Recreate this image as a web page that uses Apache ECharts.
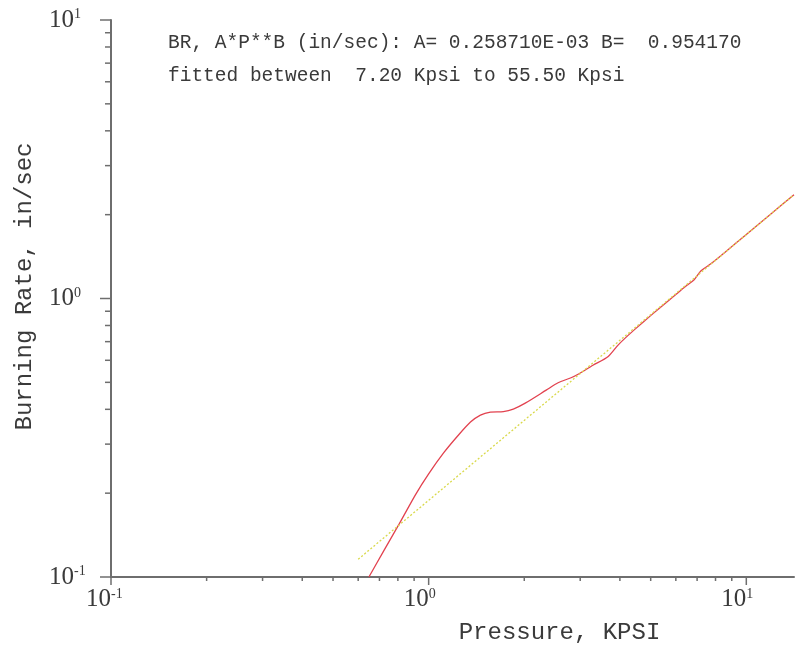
<!DOCTYPE html>
<html>
<head>
<meta charset="utf-8">
<title>Burning Rate vs Pressure</title>
<script src="https://cdn.jsdelivr.net/npm/echarts@6/dist/echarts.min.js"></script>
<style>
  html, body { margin: 0; padding: 0; background: #ffffff; }
  #chart { width: 797px; height: 650px; }
</style>
</head>
<body>
<div id="chart"></div>
<script>
// Measured burning rate (in/sec) against pressure (KPSI)
var measuredPressure = [0.6485, 0.7228, 0.8052, 0.9085, 1.0, 1.1144, 1.2417, 1.3542, 1.4555, 1.5644,
  1.7186, 1.8468, 2.0143, 2.3443, 2.5559, 2.8077, 2.9743, 3.2897, 3.6665, 3.9405,
  4.1468, 4.4568, 5.0, 5.6, 6.0, 6.5, 6.85, 7.19, 7.73, 8.5,
  10.0, 12.0, 14.13];
var measuredRate = [0.100, 0.1244, 0.1541, 0.1973, 0.2346, 0.2789, 0.3234, 0.3600, 0.3815, 0.3910,
  0.3926, 0.4008, 0.4210, 0.4687, 0.4984, 0.5194, 0.5370, 0.5757, 0.6175, 0.6789,
  0.7191, 0.7747, 0.868, 0.968, 1.033, 1.115, 1.168, 1.255, 1.332, 1.455,
  1.697, 2.02, 2.36];

// Power-law fit BR = A * P**B (P in psi), drawn over the plotted pressure span
var fitA = 0.258710E-03;
var fitB = 0.954170;
var fitPressure = [0.6, 14.13];
var fitFrom = 7.20, fitTo = 55.50;

// Tick positions on both log axes
var xMajorTicks = [0.1, 1, 10];
var yMajorTicks = [0.1, 1, 10];
var xMinorTicks = [0.2, 0.3, 0.4, 0.5, 0.6, 0.7, 0.8, 0.9, 2, 3, 4, 5, 6, 7, 8, 9];
var yMinorTicks = [0.2, 0.3, 0.4, 0.5, 0.6, 0.7, 0.8, 0.9, 2, 3, 4, 5, 6, 7, 8, 9];

var xMin = 0.1, xMax = 14.13, yMin = 0.1, yMax = 10;

var fitRate = fitPressure.map(function (p) { return fitA * Math.pow(p * 1000, fitB); });

function zip(a, b) { return a.map(function (v, i) { return [v, b[i]]; }); }

var axisColor = '#6e6e6e';
var textColor = '#3a3a3a';
var mono = '"Liberation Mono", "DejaVu Sans Mono", monospace';
var serif = '"Liberation Serif", "DejaVu Serif", serif';

// Width of a superscript exponent, so the mantissa "10" can end right at the tick
var measureCtx = document.createElement('canvas').getContext('2d');
measureCtx.font = '14px ' + serif;
function expKey(e) { return e < 0 ? 'sm' + (-e) : 's' + e; }

var yRich = { b: { fontFamily: serif, fontSize: 25, color: textColor, lineHeight: 25 } };
var xRich = { b: { fontFamily: serif, fontSize: 25, color: textColor, lineHeight: 25 } };
[-1, 0, 1].forEach(function (e) {
  var w = measureCtx.measureText(String(e)).width;
  yRich[expKey(e)] = { fontFamily: serif, fontSize: 14, color: textColor, lineHeight: 14, verticalAlign: 'top' };
  xRich[expKey(e)] = { fontFamily: serif, fontSize: 14, color: textColor, lineHeight: 14, verticalAlign: 'top',
    padding: [0, Math.max(0, 25 - w), 0, 0] };
});

function powLabel(v) {
  var e = Math.round(Math.log10(v));
  if (Math.abs(Math.log10(v) - e) > 1e-6) return '';
  return '{b|10}{' + expKey(e) + '|' + e + '}';
}

function tickSeries(name, values, horizontal, len) {
  return {
    name: name,
    type: 'custom',
    coordinateSystem: 'cartesian2d',
    silent: true,
    clip: false,
    data: values.map(function (v) { return horizontal ? [v, yMin] : [xMin, v]; }),
    renderItem: function (params, api) {
      var p = api.coord([api.value(0), api.value(1)]);
      var shape = horizontal
        ? { x1: p[0], y1: p[1], x2: p[0], y2: p[1] + len }
        : { x1: p[0], y1: p[1], x2: p[0] - len, y2: p[1] };
      return { type: 'line', shape: shape, style: { stroke: axisColor, lineWidth: 1.5 } };
    },
    z: 1
  };
}

var chart = echarts.init(document.getElementById('chart'), null, { renderer: 'canvas' });

chart.setOption({
  animation: false,
  backgroundColor: '#ffffff',
  grid: { left: 111, right: 0, top: 20, bottom: 71, containLabel: false },
  xAxis: {
    type: 'log', logBase: 10, min: xMin, max: xMax,
    name: 'Pressure, KPSI',
    nameLocation: 'middle', nameGap: 44,
    nameTextStyle: { fontFamily: mono, fontSize: 24, color: textColor, padding: [0, 0, 0, 214] },
    axisLine: { show: true, lineStyle: { color: axisColor, width: 2 } },
    axisTick: { show: false },
    minorTick: { show: false },
    splitLine: { show: false },
    axisLabel: { margin: 10, formatter: powLabel, rich: xRich, showMaxLabel: true }
  },
  yAxis: {
    type: 'log', logBase: 10, min: yMin, max: yMax,
    name: 'Burning Rate, in/sec',
    nameLocation: 'middle', nameGap: 74, nameRotate: 90,
    nameTextStyle: { fontFamily: mono, fontSize: 24, color: textColor, padding: [0, 0, 0, 24] },
    axisLine: { show: true, lineStyle: { color: axisColor, width: 2 } },
    axisTick: { show: false },
    minorTick: { show: false },
    splitLine: { show: false },
    axisLabel: { margin: 62, align: 'left', formatter: powLabel, rich: yRich }
  },
  graphic: [
    {
      type: 'text', left: 168, top: 33,
      style: {
        text: 'BR, A*P**B (in/sec): A= ' + fitA.toExponential(5).replace(/^(\d)\.(\d+)e-(\d+)$/, function (m, d, f, e) {
          return '0.' + d + f + 'E-' + ('0' + (parseInt(e, 10) - 1)).slice(-2);
        }) + ' B=  ' + fitB.toFixed(6),
        font: '19.5px ' + mono, fill: textColor
      }
    },
    {
      type: 'text', left: 168, top: 66,
      style: {
        text: 'fitted between  ' + fitFrom.toFixed(2) + ' Kpsi to ' + fitTo.toFixed(2) + ' Kpsi',
        font: '19.5px ' + mono, fill: textColor
      }
    }
  ],
  series: [
    {
      name: 'Measured',
      type: 'line',
      data: zip(measuredPressure, measuredRate),
      showSymbol: false,
      smooth: 0.25,
      lineStyle: { color: '#e2424f', width: 1.3 },
      z: 2
    },
    {
      name: 'Fit',
      type: 'line',
      data: zip(fitPressure, fitRate),
      showSymbol: false,
      lineStyle: { color: '#d9d94a', width: 1.3, type: [2, 2] },
      z: 3
    },
    tickSeries('xMajor', xMajorTicks, true, 8),
    tickSeries('xMinor', xMinorTicks, true, 4),
    tickSeries('yMajor', yMajorTicks, false, 11),
    tickSeries('yMinor', yMinorTicks, false, 6)
  ]
});
</script>
</body>
</html>
